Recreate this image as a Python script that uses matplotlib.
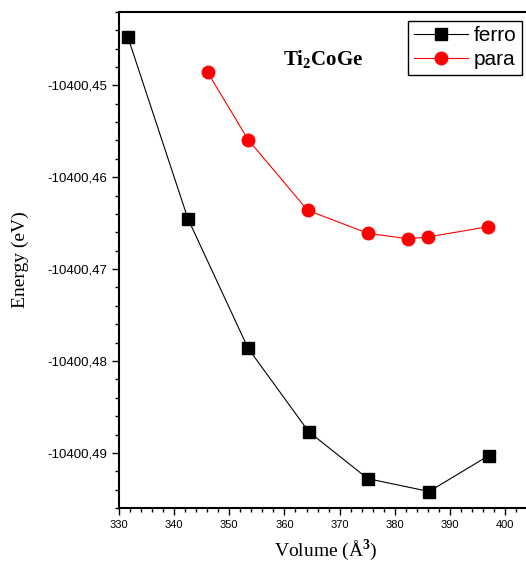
import numpy as np
import matplotlib
matplotlib.use('Agg')
import matplotlib.pyplot as plt
from matplotlib.ticker import MultipleLocator, FuncFormatter

plt.rcParams['mathtext.fontset'] = 'custom'
plt.rcParams['mathtext.rm'] = 'Liberation Serif'
plt.rcParams['mathtext.bf'] = 'Liberation Serif:bold'

# data
vol_ferro = [331.6, 342.5, 353.4, 364.4, 375.1, 386.2, 397.0]
e_ferro = [-10400.4447, -10400.4645, -10400.4786, -10400.4877,
           -10400.4928, -10400.4942, -10400.4903]
vol_para = [346.1, 353.4, 364.2, 375.1, 382.4, 386.0, 396.8]
e_para = [-10400.4486, -10400.4559, -10400.4636, -10400.4661,
          -10400.4667, -10400.4665, -10400.4654]

fig = plt.figure(figsize=(5.26, 5.62), dpi=100)
ax = fig.add_axes([0.226, 0.096, 0.787, 0.883])

ax.plot(vol_ferro, e_ferro, color='black', lw=0.8, marker='s', ms=8,
        label='ferro')
ax.plot(vol_para, e_para, color='red', lw=0.8, marker='o', ms=9,
        label='para')

ax.set_xlim(330, 405)
ax.set_ylim(-10400.496, -10400.442)
ax.xaxis.set_major_locator(MultipleLocator(10))
ax.xaxis.set_minor_locator(MultipleLocator(2))
ax.yaxis.set_major_locator(MultipleLocator(0.01))
ax.yaxis.set_minor_locator(MultipleLocator(0.002))
ax.yaxis.set_major_formatter(FuncFormatter(lambda v, p: f'{v:.2f}'.replace('.', ',')))

ax.tick_params(which='major', direction='out', length=5, width=1,
               labelsize=8, labelfontfamily='Liberation Sans')
ax.tick_params(which='minor', direction='out', length=3, width=1)
ax.tick_params(axis='y', labelsize=9.5)
for s in ax.spines.values():
    s.set_linewidth(1.5)

ax.set_xlabel(r'Volume (Å$^\mathbf{3}$)', fontfamily='Liberation Serif',
              fontsize=14, labelpad=5)
ax.set_ylabel('Energy (eV)', fontfamily='Liberation Serif', fontsize=14,
              labelpad=13)

fig.text(323 / 526, 1 - 60 / 562, r'Ti$_\mathbf{2}$CoGe', ha='center',
         va='center', fontfamily='Liberation Serif', fontweight='bold',
         fontsize=15)

leg = ax.legend(loc='upper right', bbox_to_anchor=(522 / 526, 1 - 21 / 562),
                bbox_transform=fig.transFigure, borderaxespad=0,
                prop={'family': 'Liberation Sans', 'size': 15},
                fancybox=False, edgecolor='black', framealpha=1,
                handlelength=2.6, handletextpad=0.3, borderpad=0.25,
                labelspacing=0.25)
leg.get_frame().set_linewidth(1)

fig.savefig('out.png', dpi=100)
